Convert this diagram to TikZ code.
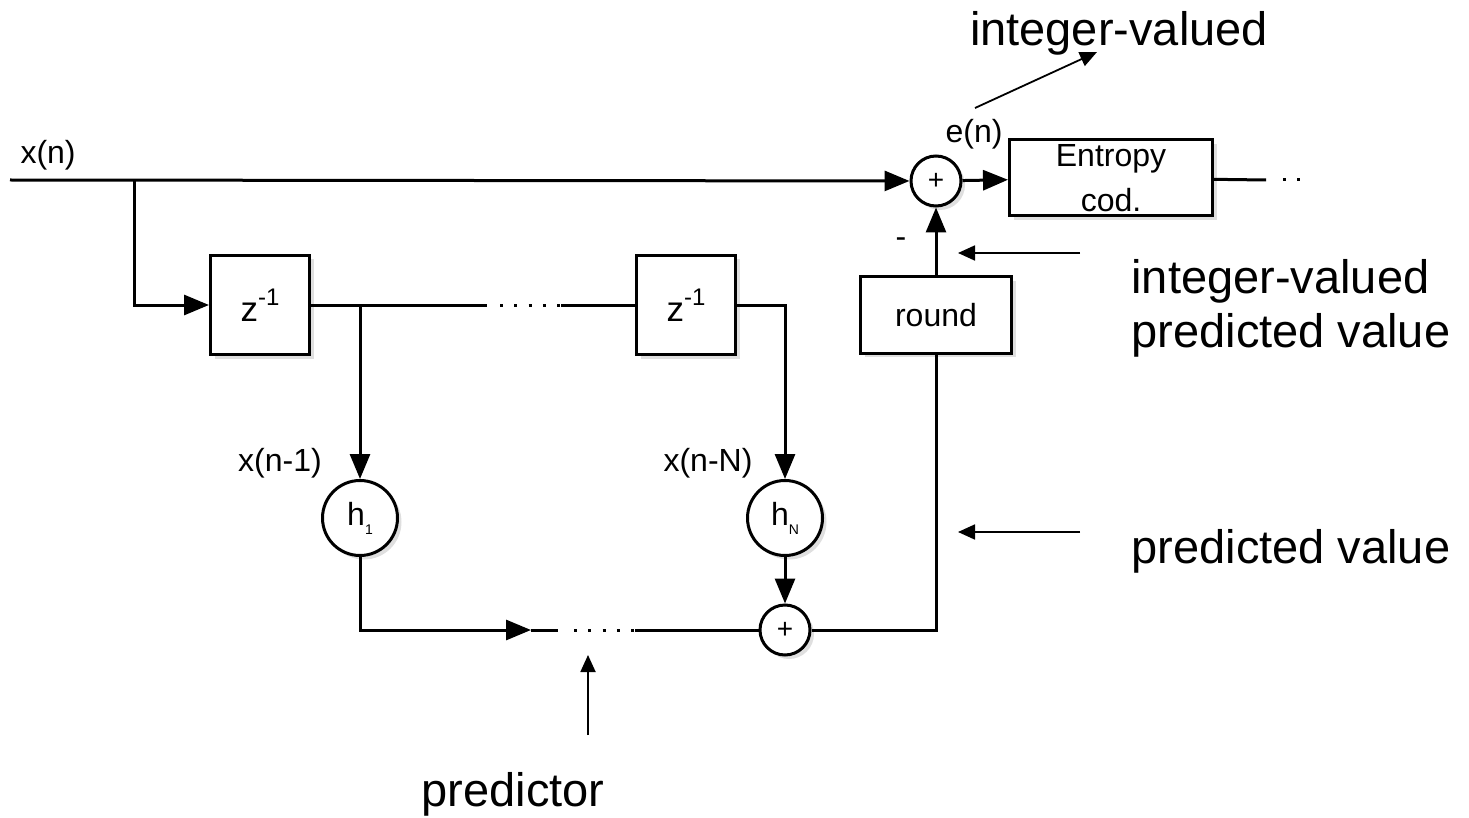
\documentclass[tikz,border=0pt]{standalone}
\usepackage{fontspec}
\setmainfont{Liberation Sans}
\usetikzlibrary{positioning, calc, arrows.meta, shadows}
\newcommand{\lblfont}{\fontsize{32}{38}\selectfont}
\newcommand{\notefont}{\fontsize{47}{54}\selectfont}
\newcommand{\zinv}{{\fontsize{35}{38}\selectfont z}\raisebox{16pt}{\fontsize{24}{26}\selectfont -1}}
\newcommand{\hsub}[1]{h\raisebox{-9pt}{\fontsize{14}{14}\selectfont #1}}
\tikzset{block/.style={draw, line width=3pt, fill=white, minimum width=99pt, minimum height=99pt, inner sep=0pt, font=\lblfont, drop shadow={shadow xshift=4pt, shadow yshift=-4pt, opacity=.25}},
hcirc/.style={block, circle, minimum size=75pt},
sum/.style={block, circle, minimum size=50pt, font=\fontsize{28}{30}\selectfont},
line/.style={-{Triangle[length=25pt,width=20pt]}, line width=3pt},
wire/.style={line width=3pt},
dots/.style={line width=3pt, dash pattern=on 3pt off 11.3pt},
note/.style={-{Triangle[length=17pt,width=15pt]}, line width=1.8pt}
}
\begin{document}
\begin{tikzpicture}[x=1pt, y=-1pt]
\useasboundingbox (0,0) rectangle (1469,818);
% blocks of the predictor
\node[sum] (s1) at (936,181) {+};
\node[block, minimum width=203pt, minimum height=76pt, align=center] (ent) at (1111,178) {Entropy\\[7pt]cod.};
\node[block] (z1) at (260,305) {\zinv};
\node[block] (z2) at (686,305) {\zinv};
\node[block, minimum width=151pt, minimum height=76pt] (rnd) at (936,315) {round};
\node[hcirc] (h1) at (360,518) {\hsub{1}};
\node[hcirc] (hN) at (785,518) {\hsub{N}};
\node[sum] (s2) at (785,630) {+};
 % labels of the signals
\node[font=\lblfont, anchor=base west] (xn) at (17,164) {x(n)};
\node[font=\lblfont, anchor=base] (en) at (974,143) {e(n)};
\node[font=\lblfont, anchor=base] (xn1) at (280,471) {x(n-1)};
\node[font=\lblfont, anchor=base] (xnN) at (708,471) {x(n-N)};
\node[font=\lblfont] (minus) at (901,243) {-};
 % the free ends of the lines
\coordinate (in) at (10,180);
\coordinate (br) at (134,180);
\coordinate (tap) at (360,305);
\coordinate (d1) at (487,305);
\coordinate (d2) at (500,305);
\coordinate (d3) at (561,305);
\coordinate (b1) at (531,630);
\coordinate (b2) at (558,630);
\coordinate (b3) at (574,630);
\coordinate (b4) at (635,630);
\coordinate (o1) at (1266,180);
\coordinate (o2) at (1283,180);
\coordinate (o3) at (1300,180);
\draw[line] (in) -- (s1);
\draw[line] (br) |- (z1);
\draw[wire] (z1) -- (d1);
\draw[dots] (d2) -- (d3);
\draw[wire] (d3) -- (z2);
\draw[line] (tap) -- (h1);
\draw[line] (z2.east) -| (hN);
\draw[line] (hN) -- (s2);
\draw[line] (h1) |- (b1);
\draw[wire] (b1) -- (b2);
\draw[dots] (b3) -- (b4);
\draw[wire] (b4) -- (s2);
\draw[wire] (s2) -| (rnd);
\draw[line] (rnd) -- (s1);
\draw[line] (s1) -- (ent);
\draw[wire] (ent) -- (o1);
\draw[dots] (o2) -- (o3);
 % the notes
\node[font=\notefont, anchor=base] (iv) at (1119,46) {integer-valued};
\node[font=\notefont, anchor=base west, align=left] (ipv) at (1128,347) {integer-valued\\predicted value};
\node[font=\notefont, anchor=base west] (pv) at (1128,563) {predicted value};
\node[font=\notefont, anchor=base] (pr) at (513,806) {predictor};
\coordinate (n1) at (975,108);
\coordinate (n2) at (1097,52);
\coordinate (n3) at (1080,253);
\coordinate (n4) at (958,253);
\coordinate (n5) at (1080,532);
\coordinate (n6) at (958,532);
\coordinate (n7) at (588,735);
\coordinate (n8) at (588,655);
\draw[note] (n1) -- (n2);
\draw[note] (n3) -- (n4);
\draw[note] (n5) -- (n6);
\draw[note] (n7) -- (n8);
\end{tikzpicture}
\end{document}
